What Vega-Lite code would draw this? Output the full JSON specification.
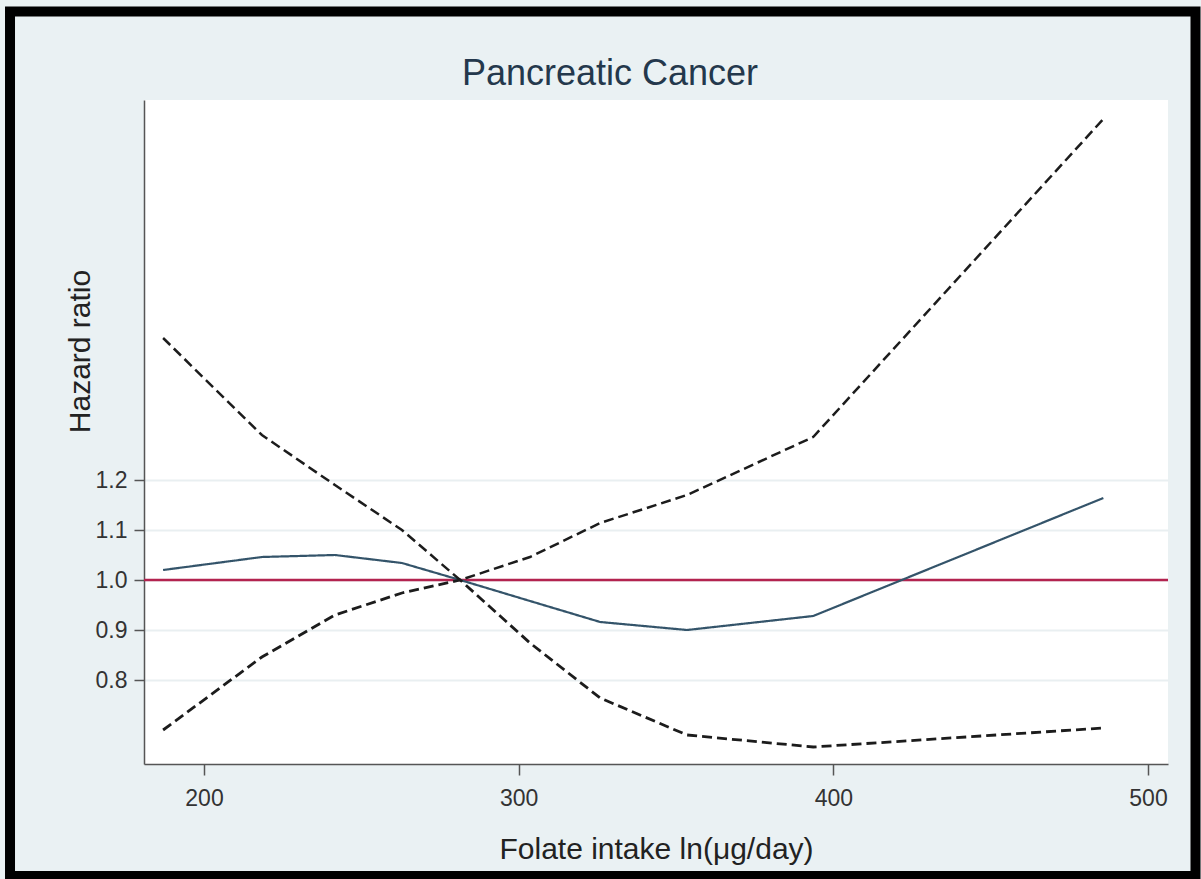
{
  "$schema": "https://vega.github.io/schema/vega-lite/v6.json",
  "width": 1024,
  "height": 664,
  "autosize": {"type": "none"},
  "padding": {"left": 144, "top": 100, "right": 33, "bottom": 115},
  "background": "#eaf1f3",
  "title": {
    "text": "Pancreatic Cancer",
    "font": "Liberation Sans",
    "fontSize": 36,
    "fontWeight": "normal",
    "color": "#24384c",
    "anchor": "middle",
    "frame": "group",
    "dx": -46,
    "offset": -86
  },
  "config": {
    "view": {"stroke": null, "fill": "white"},
    "font": "Liberation Sans",
    "axis": {
      "labelFont": "Liberation Sans",
      "titleFont": "Liberation Sans",
      "labelColor": "#333333",
      "titleColor": "#222222",
      "titleFontWeight": "normal",
      "domainColor": "#555555",
      "domainWidth": 1.5,
      "tickColor": "#555555",
      "tickWidth": 1.5
    }
  },
  "datasets": {
    "curves": [
      {"x": 187.0, "y": 1.020, "series": "estimate"},
      {"x": 218.4, "y": 1.046, "series": "estimate"},
      {"x": 241.6, "y": 1.050, "series": "estimate"},
      {"x": 262.9, "y": 1.034, "series": "estimate"},
      {"x": 281.4, "y": 1.000, "series": "estimate"},
      {"x": 303.6, "y": 0.958, "series": "estimate"},
      {"x": 325.9, "y": 0.916, "series": "estimate"},
      {"x": 353.5, "y": 0.900, "series": "estimate"},
      {"x": 393.6, "y": 0.928, "series": "estimate"},
      {"x": 485.8, "y": 1.164, "series": "estimate"},
      {"x": 187.0, "y": 1.484, "series": "upper"},
      {"x": 218.4, "y": 1.290, "series": "upper"},
      {"x": 241.6, "y": 1.190, "series": "upper"},
      {"x": 262.9, "y": 1.100, "series": "upper"},
      {"x": 281.4, "y": 1.000, "series": "upper"},
      {"x": 303.6, "y": 1.046, "series": "upper"},
      {"x": 325.9, "y": 1.114, "series": "upper"},
      {"x": 353.5, "y": 1.170, "series": "upper"},
      {"x": 393.6, "y": 1.286, "series": "upper"},
      {"x": 485.8, "y": 1.922, "series": "upper"},
      {"x": 187.0, "y": 0.700, "series": "lower"},
      {"x": 218.4, "y": 0.846, "series": "lower"},
      {"x": 241.6, "y": 0.930, "series": "lower"},
      {"x": 262.9, "y": 0.974, "series": "lower"},
      {"x": 281.4, "y": 1.000, "series": "lower"},
      {"x": 303.6, "y": 0.874, "series": "lower"},
      {"x": 325.9, "y": 0.764, "series": "lower"},
      {"x": 353.5, "y": 0.690, "series": "lower"},
      {"x": 393.6, "y": 0.666, "series": "lower"},
      {"x": 485.8, "y": 0.704, "series": "lower"}
    ],
    "frame": [
      {"x": 138.35, "x2": 515.09, "y": 2.137, "y2": 0.408}
    ],
    "reference": [
      {"x": 180.93, "x2": 506.35, "y": 1.0}
    ]
  },
  "encoding": {
    "x": {
      "field": "x", "type": "quantitative",
      "scale": {"domain": [180.93, 506.35], "nice": false, "zero": false},
      "axis": {
        "values": [200, 300, 400, 500],
        "title": "Folate intake ln(μg/day)",
        "grid": false,
        "tickSize": 11,
        "labelPadding": 12,
        "labelFontSize": 23,
        "titleFontSize": 30,
        "titlePadding": 24
      }
    },
    "y": {
      "field": "y", "type": "quantitative",
      "scale": {"domain": [0.632, 1.96], "nice": false, "zero": false},
      "axis": {
        "values": [0.8, 0.9, 1.0, 1.1, 1.2],
        "format": ".1f",
        "title": "Hazard ratio",
        "titleY": 251,
        "grid": true,
        "gridColor": "#e9eff1",
        "gridWidth": 2,
        "tickSize": 10,
        "labelPadding": 7,
        "labelFontSize": 23,
        "titleFontSize": 30,
        "titlePadding": 0
      }
    }
  },
  "layer": [
    {
      "data": {"name": "frame"},
      "mark": {"type": "rect", "fillOpacity": 0, "stroke": "black", "strokeWidth": 10, "clip": false},
      "encoding": {
        "x2": {"field": "x2"},
        "y2": {"field": "y2"}
      }
    },
    {
      "data": {"name": "reference"},
      "mark": {"type": "rule", "color": "#b3234f", "strokeWidth": 2.5},
      "encoding": {
        "x2": {"field": "x2"}
      }
    },
    {
      "data": {"name": "curves"},
      "mark": {"type": "line", "clip": false},
      "encoding": {
        "detail": {"field": "series", "type": "nominal"},
        "color": {
          "field": "series", "type": "nominal",
          "scale": {"domain": ["estimate", "upper", "lower"], "range": ["#34546a", "#1c1c1c", "#1c1c1c"]},
          "legend": null
        },
        "strokeDash": {
          "field": "series", "type": "nominal",
          "scale": {"domain": ["estimate", "upper", "lower"], "range": [[1, 0], [10, 5], [10, 5]]},
          "legend": null
        },
        "strokeWidth": {
          "field": "series", "type": "nominal",
          "scale": {"domain": ["estimate", "upper", "lower"], "range": [2.2, 2.8, 2.8]},
          "legend": null
        }
      }
    }
  ]
}
